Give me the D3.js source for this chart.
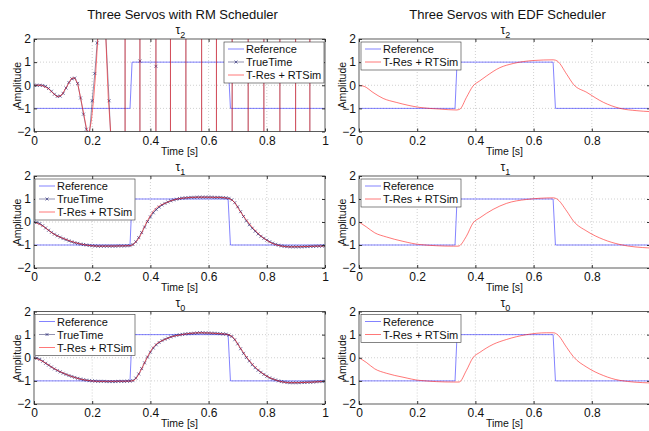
<!DOCTYPE html>
<html lang="en">
<head>
<meta charset="UTF-8">
<title>Three Servos</title>
<script src="https://d3js.org/d3.v7.min.js"></script>
<style>
  body { margin: 0; background: #fff; }
  svg { display: block; font-family: "Liberation Sans", Arial, Helvetica, sans-serif; }
</style>
</head>
<body>
<div id="container"></div>
<script>
// ---- data ----
var xTicks = [0, 0.2, 0.4, 0.6, 0.8, 1];
var yTicks = [-2, -1, 0, 1, 2];
var columnTitles = ["Three Servos with RM Scheduler", "Three Servos with EDF Scheduler"];
var taskIndex = ["2", "1", "0"];
var legendLabels = ["Reference", "TrueTime", "T-Res + RTSim"];

// square-wave reference (same in every panel)
var refTime  = [0, 0.33, 0.337, 0.667, 0.675, 1];
var refValue = [-1, -1, 1, 1, -1, -1];

// TrueTime samples every 10 ms
var sampleStep = 0.01;
var rmTau1TrueTime = [0,-0.02,-0.07,-0.16,-0.26,-0.36,-0.45,-0.53,-0.60,-0.66,-0.72,-0.77,-0.82,-0.86,-0.90,-0.93,-0.96,-0.98,-1.00,-1.02,
  -1.03,-1.04,-1.05,-1.05,-1.05,-1.05,-1.05,-1.05,-1.05,-1.04,-1.04,-1.04,-1.03,-1.03,-0.98,-0.86,-0.68,-0.46,-0.22,0.02,
  0.22,0.40,0.54,0.65,0.74,0.81,0.87,0.92,0.96,0.99,1.02,1.04,1.05,1.06,1.07,1.07,1.08,1.08,1.08,1.08,
  1.08,1.08,1.07,1.07,1.07,1.06,1.05,1.03,0.96,0.84,0.66,0.45,0.24,0.05,-0.12,-0.27,-0.40,-0.52,-0.62,-0.71,
  -0.79,-0.86,-0.92,-0.97,-1.01,-1.04,-1.06,-1.07,-1.08,-1.08,-1.08,-1.08,-1.08,-1.07,-1.07,-1.06,-1.06,-1.05,-1.05,-1.04,-1.04];
var rmTau0TrueTime = [0,-0.02,-0.07,-0.15,-0.24,-0.32,-0.40,-0.48,-0.55,-0.61,-0.67,-0.72,-0.77,-0.81,-0.85,-0.89,-0.92,-0.95,-0.97,-0.99,
  -1.00,-1.01,-1.02,-1.02,-1.02,-1.03,-1.03,-1.03,-1.03,-1.02,-1.02,-1.02,-1.01,-1.01,-0.99,-0.88,-0.70,-0.47,-0.22,0.03,
  0.24,0.42,0.56,0.66,0.74,0.80,0.85,0.90,0.94,0.97,0.99,1.01,1.03,1.04,1.05,1.06,1.07,1.08,1.08,1.07,
  1.07,1.06,1.06,1.05,1.04,1.03,1.02,0.98,0.92,0.78,0.60,0.39,0.19,0.01,-0.14,-0.30,-0.43,-0.54,-0.63,-0.72,
  -0.80,-0.87,-0.92,-0.96,-1.00,-1.03,-1.05,-1.07,-1.08,-1.08,-1.08,-1.08,-1.07,-1.07,-1.06,-1.06,-1.05,-1.04,-1.03,-1.03,-1.02];

// RM tau2 goes unstable: early part, then it flips between +/- "diverged" values
var divergedValue = 1000;
var rmTau2Crossings = [0.313, 0.364, 0.419, 0.469, 0.522, 0.576, 0.627, 0.681, 0.736, 0.790, 0.845, 0.899, 0.948];
var rmTau2TrueTimeEarly = [[0,0],[0.01,0],[0.02,0],[0.03,-0.01],[0.04,-0.05],[0.05,-0.14],[0.06,-0.26],[0.07,-0.39],[0.08,-0.48],
  [0.09,-0.47],[0.10,-0.35],[0.11,-0.12],[0.12,0.12],[0.13,0.28],[0.14,0.31],[0.15,0.08],[0.16,-0.55],[0.17,-1.25],[0.18,-1.9],
  [0.19,-2.2],[0.20,-0.67],[0.209,0.51],[0.217,1.83],[0.23,3.4],[0.245,2.6],[0.258,-0.67],[0.27,-4]];
var rmTau2TrueTimeStray = [[0.364, 1.05], [0.419, 0.82]];
var rmTau2TResEarly = [[0,0],[0.026,0],[0.049,-0.14],[0.066,-0.35],[0.08,-0.5],[0.095,-0.43],[0.112,-0.07],[0.129,0.3],
  [0.139,0.32],[0.15,0.08],[0.164,-0.79],[0.175,-1.51],[0.186,-2.25],[0.197,-1.55],[0.204,-0.72],[0.212,0.51],[0.219,1.96],
  [0.232,3.5],[0.247,2.0],[0.255,-0.5],[0.263,-1.94],[0.275,-5]];

var rmTau1TRes = [[0,0],[0.031,-0.18],[0.065,-0.5],[0.11,-0.76],[0.169,-0.98],[0.226,-1.05],[0.33,-1.03],[0.34,-0.98],[0.364,-0.62],
  [0.386,-0.04],[0.41,0.47],[0.455,0.84],[0.513,1.04],[0.57,1.08],[0.64,1.07],[0.662,1.04],[0.685,0.91],[0.708,0.47],[0.742,-0.11],
  [0.788,-0.69],[0.834,-1.0],[0.88,-1.08],[0.948,-1.06],[1,-1.04]];
var rmTau0TRes = [[0,0],[0.031,-0.16],[0.065,-0.44],[0.111,-0.72],[0.169,-0.95],[0.226,-1.02],[0.329,-1.01],[0.343,-0.98],[0.364,-0.62],
  [0.386,-0.06],[0.409,0.44],[0.455,0.82],[0.513,1.01],[0.57,1.08],[0.639,1.04],[0.662,1.01],[0.685,0.87],[0.708,0.44],[0.742,-0.16],
  [0.788,-0.7],[0.834,-0.98],[0.88,-1.08],[0.948,-1.06],[1,-1.02]];

var edfTau2TRes = [[0,0],[0.02,-0.06],[0.048,-0.31],[0.083,-0.57],[0.128,-0.74],[0.209,-0.96],[0.278,-1.03],[0.335,-1.07],[0.347,-1.03],
  [0.369,-0.53],[0.392,-0.03],[0.415,0.19],[0.438,0.4],[0.484,0.76],[0.53,0.94],[0.599,1.07],[0.668,1.1],[0.682,1.04],[0.714,0.47],
  [0.737,0.04],[0.783,-0.31],[0.84,-0.74],[0.897,-1.0],[0.955,-1.1],[1,-1.14]];
var edfTau1TRes = [[0,0],[0.025,-0.21],[0.054,-0.47],[0.094,-0.65],[0.151,-0.84],[0.209,-0.98],[0.324,-1.05],[0.341,-1.05],[0.369,-0.62],
  [0.392,-0.04],[0.415,0.18],[0.461,0.55],[0.507,0.81],[0.576,0.98],[0.668,1.05],[0.679,1.01],[0.714,0.47],[0.737,0.04],[0.783,-0.4],
  [0.84,-0.76],[0.897,-0.98],[1,-1.13]];
var edfTau0TRes = [[0,0],[0.025,-0.2],[0.054,-0.48],[0.094,-0.67],[0.151,-0.84],[0.209,-0.98],[0.324,-1.05],[0.344,-1.05],[0.369,-0.55],
  [0.392,0.01],[0.415,0.23],[0.461,0.58],[0.507,0.79],[0.576,1.0],[0.645,1.08],[0.668,1.08],[0.682,1.0],[0.714,0.44],[0.737,0.04],
  [0.783,-0.41],[0.84,-0.77],[0.897,-0.98],[1,-1.09]];

// ---- build series ----
function sampled(values) {
  return values.map(function (v, i) { return [+(i * sampleStep).toFixed(2), v]; });
}
// flip between +/- diverged value at every crossing time
function withCrossings(early, crossings) {
  var pts = early.slice(), sign = -1;
  crossings.forEach(function (t) {
    pts.push([t, sign * divergedValue]);
    sign = -sign;
    pts.push([t, sign * divergedValue]);
  });
  return pts;
}
var refSeries = refTime.map(function (t, i) { return [t, refValue[i]]; });
var rmTau2TrueTime = withCrossings(rmTau2TrueTimeEarly, rmTau2Crossings);
var rmTau2TRes = withCrossings(rmTau2TResEarly, rmTau2Crossings);

// ---- layout ----
var width = 649, height = 431;
var colX = [[34, 325], [359, 650]];
var rowY = [[39, 131.5], [176, 268], [311.5, 404]];

var colors = {
  ref: "rgba(30,30,255,0.55)",
  tt: "rgba(40,40,100,0.5)",
  ttMarker: "rgba(25,25,110,0.85)",
  tres: "rgba(255,30,30,0.6)",
  axis: "#333",
  grid: "#c4c4c4"
};

var panels = [
  { col: 0, row: 0, tt: rmTau2TrueTime, ttMarkers: rmTau2TrueTimeEarly.concat(rmTau2TrueTimeStray), tres: rmTau2TRes, smooth: false, legendRight: true },
  { col: 0, row: 1, tt: sampled(rmTau1TrueTime), tres: rmTau1TRes, smooth: true },
  { col: 0, row: 2, tt: sampled(rmTau0TrueTime), tres: rmTau0TRes, smooth: true },
  { col: 1, row: 0, tres: edfTau2TRes, smooth: true },
  { col: 1, row: 1, tres: edfTau1TRes, smooth: true },
  { col: 1, row: 2, tres: edfTau0TRes, smooth: true }
];

var svg = d3.select("#container").append("svg").attr("width", width).attr("height", height);
var defs = svg.append("defs");
var xMark = "M-1.5,-1.5L1.5,1.5M-1.5,1.5L1.5,-1.5";

// column titles
columnTitles.forEach(function (t, c) {
  svg.append("text")
    .attr("x", (colX[c][0] + colX[c][1]) / 2 + 3).attr("y", 18.5)
    .attr("text-anchor", "middle").attr("font-size", 13).attr("fill", "#111")
    .text(t);
});

panels.forEach(function (p, i) {
  var x0 = colX[p.col][0], x1 = colX[p.col][1];
  var y0 = rowY[p.row][0], y1 = rowY[p.row][1];
  var x = d3.scaleLinear().domain([0, 1]).range([x0, x1]);
  var y = d3.scaleLinear().domain([-2, 2]).range([y1, y0]);

  var g = svg.append("g");
  g.append("rect").attr("x", x0).attr("y", y0).attr("width", x1 - x0).attr("height", y1 - y0).attr("fill", "#fff");

  // dotted grid
  g.selectAll(".gx").data(xTicks.slice(1, -1)).enter().append("line")
    .attr("x1", function (d) { return x(d); }).attr("x2", function (d) { return x(d); })
    .attr("y1", y0).attr("y2", y1)
    .attr("stroke", colors.grid).attr("stroke-width", 0.8).attr("stroke-dasharray", "1,2");
  g.selectAll(".gy").data(yTicks.slice(1, -1)).enter().append("line")
    .attr("y1", function (d) { return y(d); }).attr("y2", function (d) { return y(d); })
    .attr("x1", x0).attr("x2", x1)
    .attr("stroke", colors.grid).attr("stroke-width", 0.8).attr("stroke-dasharray", "1,2");

  // data lines, clipped to the axes box
  var clipId = "clip" + i;
  defs.append("clipPath").attr("id", clipId).append("rect")
    .attr("x", x0).attr("y", y0).attr("width", x1 - x0).attr("height", y1 - y0);
  var plot = g.append("g").attr("clip-path", "url(#" + clipId + ")");

  var lineLin = d3.line().x(function (d) { return x(d[0]); }).y(function (d) { return y(d[1]); });
  var lineSmooth = d3.line().curve(d3.curveMonotoneX).x(function (d) { return x(d[0]); }).y(function (d) { return y(d[1]); });

  plot.append("path").datum(refSeries).attr("d", lineLin)
    .attr("fill", "none").attr("stroke", colors.ref).attr("stroke-width", 1);

  if (p.tt) {
    plot.append("path").datum(p.tt).attr("d", lineLin)
      .attr("fill", "none").attr("stroke", colors.tt).attr("stroke-width", 1);
    plot.selectAll(".mk").data(p.ttMarkers || p.tt).enter().append("path")
      .attr("d", xMark)
      .attr("transform", function (d) { return "translate(" + x(d[0]) + "," + y(d[1]) + ")"; })
      .attr("fill", "none").attr("stroke", colors.ttMarker).attr("stroke-width", 0.7);
  }

  plot.append("path").datum(p.tres).attr("d", p.smooth ? lineSmooth : lineLin)
    .attr("fill", "none").attr("stroke", colors.tres).attr("stroke-width", 1);

  // axes: ticks point inwards, box drawn separately
  // (labels that would fall past the page edge are not shown, as in the original)
  var xFmt = function (d) { return x(d) > width - 4 ? "" : d3.format("")(d); };
  var ax = g.append("g").attr("transform", "translate(0," + y1 + ")")
    .call(d3.axisBottom(x).tickValues(xTicks).tickSize(-3).tickPadding(4.5).tickFormat(xFmt));
  var ay = g.append("g").attr("transform", "translate(" + x0 + ",0)")
    .call(d3.axisLeft(y).tickValues(yTicks).tickSize(-3).tickPadding(3).tickFormat(d3.format("d")));
  var at = g.append("g").attr("transform", "translate(0," + y0 + ")")
    .call(d3.axisTop(x).tickValues(xTicks).tickSize(-3).tickFormat(""));
  var ar = g.append("g").attr("transform", "translate(" + x1 + ",0)")
    .call(d3.axisRight(y).tickValues(yTicks).tickSize(-3).tickFormat(""));
  [ax, ay, at, ar].forEach(function (a) {
    a.attr("color", colors.axis).attr("font-family", null).attr("font-size", 12);
    a.select(".domain").remove();
    a.selectAll("text").attr("fill", "#111");
    a.selectAll("text").filter(function () { return this.textContent === ""; }).remove();
  });
  g.append("rect").attr("x", x0).attr("y", y0).attr("width", x1 - x0).attr("height", y1 - y0)
    .attr("fill", "none").attr("stroke", colors.axis).attr("stroke-width", 0.8);

  // labels
  var tau = g.append("text").attr("x", (x0 + x1) / 2 + 1).attr("y", y0 - 5)
    .attr("text-anchor", "middle").attr("font-size", 12).attr("fill", "#111");
  tau.append("tspan").text("τ");
  tau.append("tspan").attr("dy", 4).attr("font-size", 9).text(taskIndex[p.row]);

  g.append("text").attr("x", (x0 + x1) / 2).attr("y", y1 + 23)
    .attr("text-anchor", "middle").attr("font-size", 10.5).attr("fill", "#111").text("Time [s]");
  g.append("text").attr("transform", "translate(" + (x0 - 13) + "," + ((y0 + y1) / 2) + ") rotate(-90)")
    .attr("text-anchor", "middle").attr("font-size", 10.5).attr("fill", "#111").text("Amplitude");

  // legend
  var entries = p.tt ? [0, 1, 2] : [0, 2];
  var lw = 100, lh = entries.length * 13 + 2;
  var lx = p.legendRight ? x1 - 1 - lw : x0 + (p.col === 0 ? 1 : 2);
  var ly = y0 + 3;
  var lg = g.append("g");
  lg.append("rect").attr("x", lx).attr("y", ly).attr("width", lw).attr("height", lh)
    .attr("fill", "#fff").attr("stroke", colors.axis).attr("stroke-width", 0.6);
  entries.forEach(function (e, k) {
    var ey = ly + 7 + k * 13;
    var stroke = e === 0 ? colors.ref : e === 1 ? colors.tt : colors.tres;
    lg.append("line").attr("x1", lx + 4).attr("x2", lx + 20).attr("y1", ey).attr("y2", ey)
      .attr("stroke", stroke).attr("stroke-width", 1);
    if (e === 1) {
      lg.append("path").attr("d", xMark).attr("transform", "translate(" + (lx + 12) + "," + ey + ")")
        .attr("fill", "none").attr("stroke", colors.ttMarker).attr("stroke-width", 0.7);
    }
    lg.append("text").attr("x", lx + 22).attr("y", ey + 4).attr("font-size", 11).attr("fill", "#111")
      .text(legendLabels[e]);
  });
});
</script>
</body>
</html>
